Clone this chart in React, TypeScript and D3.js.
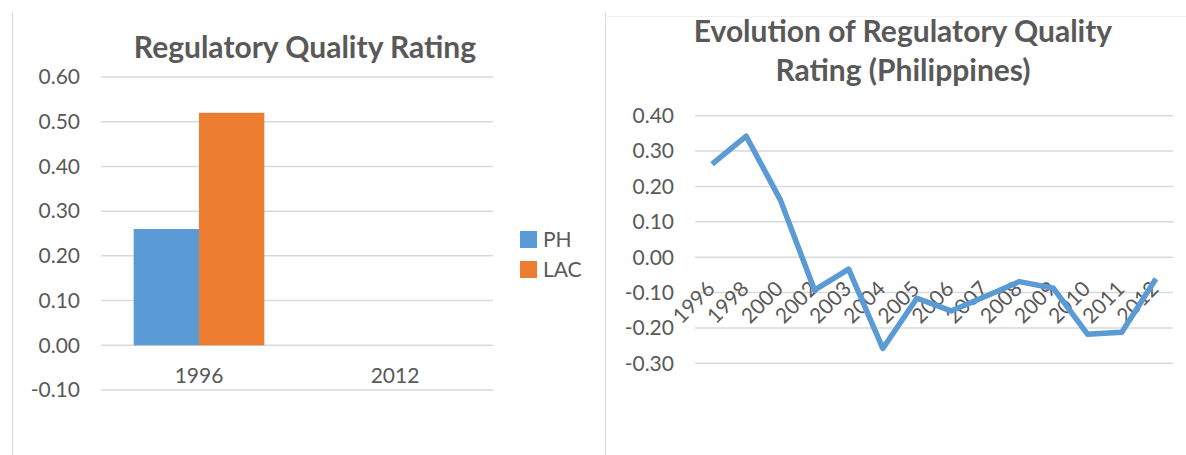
import React from "react";
import * as d3 from "d3";

// bar chart data
const barYears = ["1996", "2012"];
const phValues: (number | null)[] = [0.26, null];
const lacValues: (number | null)[] = [0.52, null];
const barSeries = ["PH", "LAC"];
const barTicks = [-0.1, 0, 0.1, 0.2, 0.3, 0.4, 0.5, 0.6];

// line chart data
const lineYears = ["1996", "1998", "2000", "2002", "2003", "2004", "2005", "2006", "2007", "2008", "2009", "2010", "2011", "2012"];
const phRating = [0.263, 0.342, 0.162, -0.093, -0.034, -0.258, -0.116, -0.152, -0.111, -0.069, -0.088, -0.218, -0.212, -0.061];
const lineTicks = [-0.3, -0.2, -0.1, 0, 0.1, 0.2, 0.3, 0.4];

const FONT = "Lato, 'Open Sans', sans-serif";
const TEXT = "#595959";
const GRID = "#D9D9D9";
const BLUE = "#5B9BD5";
const ORANGE = "#ED7D31";

function BarChart() {
    const x = d3.scaleBand().domain(barYears).range([101, 493]);
    const inner = d3.scaleBand().domain(barSeries).range([0, x.bandwidth()]).paddingOuter(0.5);
    const y = d3.scaleLinear().domain([-0.1, 0.6]).range([390, 77]);
    const colors = [BLUE, ORANGE];
    const values = [phValues, lacValues];

    return (
        <g>
            <line x1={12.5} x2={12.5} y1={12} y2={455} stroke={GRID} />
            <text x={305} y={58} textAnchor="middle" fontSize={30} fontWeight="bold" fill={TEXT}>
                Regulatory Quality Rating
            </text>
            {/* grid + y labels */}
            {barTicks.map((t) => (
                <g key={t}>
                    <line x1={101} x2={493} y1={y(t)} y2={y(t)} stroke={GRID} strokeWidth={1.5} />
                    <text x={80} y={y(t)} dy="0.35em" textAnchor="end" fontSize={21} fill={TEXT}>
                        {t.toFixed(2)}
                    </text>
                </g>
            ))}
            {/* bars */}
            {barSeries.map((s, si) =>
                barYears.map((yr, i) => {
                    const v = values[si][i];
                    if (v == null) return null;
                    return (
                        <rect
                            key={s + yr}
                            x={x(yr)! + inner(s)!}
                            y={y(Math.max(0, v))}
                            width={inner.bandwidth()}
                            height={Math.abs(y(v) - y(0))}
                            fill={colors[si]}
                        />
                    );
                })
            )}
            {barYears.map((yr) => (
                <text key={yr} x={x(yr)! + x.bandwidth() / 2} y={383} textAnchor="middle" fontSize={21} fill={TEXT}>
                    {yr}
                </text>
            ))}
            {/* legend */}
            {barSeries.map((s, i) => (
                <g key={s} transform={`translate(520,${231 + i * 30})`}>
                    <rect width={17} height={17} fill={colors[i]} />
                    <text x={23} y={8.5} dy="0.35em" fontSize={21} fill={TEXT}>
                        {s}
                    </text>
                </g>
            ))}
        </g>
    );
}

function LineChart() {
    const x = d3.scaleBand().domain(lineYears).range([695, 1173]);
    const y = d3.scaleLinear().domain([-0.3, 0.4]).range([363.3, 115.7]);
    const line = d3
        .line<number>()
        .x((_, i) => x(lineYears[i])! + x.bandwidth() / 2)
        .y((d) => y(d));

    return (
        <g>
            <line x1={605.5} x2={605.5} y1={12} y2={455} stroke={GRID} />
            <line x1={605} x2={1186} y1={16.5} y2={16.5} stroke="#F0F0F0" />
            <text textAnchor="middle" fontSize={30} fontWeight="bold" fill={TEXT}>
                <tspan x={903} y={42}>Evolution of Regulatory Quality</tspan>
                <tspan x={903} y={81}>Rating (Philippines)</tspan>
            </text>
            {lineTicks.map((t) => (
                <g key={t}>
                    <line x1={695} x2={1173} y1={y(t)} y2={y(t)} stroke={GRID} strokeWidth={1.5} />
                    <text x={674} y={y(t)} dy="0.35em" textAnchor="end" fontSize={21} fill={TEXT}>
                        {t.toFixed(2)}
                    </text>
                </g>
            ))}
            {lineYears.map((yr) => {
                const cx = x(yr)! + x.bandwidth() / 2;
                return (
                    <text
                        key={yr}
                        transform={`translate(${cx + 4},${y(0) + 33}) rotate(-45)`}
                        textAnchor="end"
                        fontSize={21}
                        fill={TEXT}
                    >
                        {yr}
                    </text>
                );
            })}
            <path d={line(phRating)!} fill="none" stroke={BLUE} strokeWidth={5.5} strokeLinejoin="round" />
        </g>
    );
}

export default function App() {
    return (
        <svg
            width={1186}
            height={455}
            style={{ position: "absolute", left: 0, top: 0, background: "#fff", fontFamily: FONT }}
        >
            <BarChart />
            <LineChart />
        </svg>
    );
}
